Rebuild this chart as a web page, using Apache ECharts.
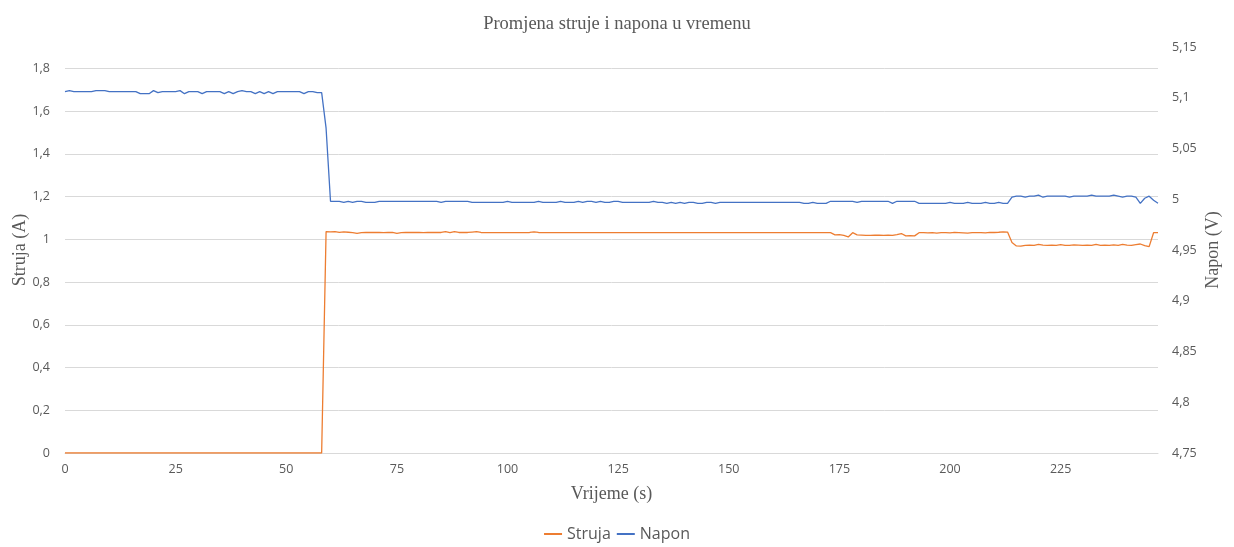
<!DOCTYPE html>
<html>
<head>
<meta charset="utf-8">
<script src="https://cdn.jsdelivr.net/npm/echarts@6/dist/echarts.min.js"></script>
<style>html,body{margin:0;padding:0;background:#fff}#c{width:1234px;height:547px}</style>
</head>
<body>
<div id="c"></div>
<script>
const titleText = 'Promjena struje i napona u vremenu';
const seriesNames = ['Struja', 'Napon'];
const axisNames = { x: 'Vrijeme (s)', left: 'Struja (A)', right: 'Napon (V)' };

// Struja (A), one sample per second, t = 0..247
const struja = [
  0,0,0,0,0,0,0,0,0,0,
  0,0,0,0,0,0,0,0,0,0,
  0,0,0,0,0,0,0,0,0,0,
  0,0,0,0,0,0,0,0,0,0,
  0,0,0,0,0,0,0,0,0,0,
  0,0,0,0,0,0,0,0,0,
  1.036,1.035,1.036,1.032,1.035,1.033,1.031,1.028,1.031,1.032,
  1.032,1.032,1.032,1.031,1.032,1.032,1.028,1.031,1.032,1.032,
  1.032,1.032,1.031,1.032,1.032,1.032,1.032,1.036,1.031,1.036,
  1.032,1.032,1.032,1.034,1.036,1.032,1.031,1.031,1.031,1.031,
  1.031,1.031,1.031,1.031,1.031,1.031,1.032,1.035,1.032,1.031,
  1.031,1.031,1.031,1.031,1.031,1.031,1.031,1.031,1.031,1.031,
  1.031,1.031,1.031,1.031,1.031,1.031,1.031,1.031,1.031,1.031,
  1.031,1.031,1.031,1.031,1.031,1.031,1.031,1.031,1.031,1.031,
  1.031,1.031,1.031,1.031,1.031,1.031,1.031,1.031,1.031,1.031,
  1.031,1.031,1.031,1.031,1.031,1.031,1.031,1.031,1.031,1.031,
  1.031,1.031,1.031,1.031,1.031,1.031,1.031,1.031,1.031,1.031,
  1.031,1.031,1.031,1.031,1.031,
  1.021,1.022,1.018,1.011,1.031,1.021,1.020,1.018,1.018,1.019,
  1.019,1.018,1.019,1.018,1.022,1.027,1.016,1.017,1.016,1.031,
  1.031,1.030,1.031,1.029,1.031,1.031,1.030,1.032,1.031,1.030,
  1.029,1.031,1.031,1.031,1.030,1.032,1.032,1.033,1.035,1.034,
  0.985,0.969,0.968,0.972,0.973,0.972,0.976,0.973,0.972,0.973,
  0.972,0.975,0.972,0.972,0.974,0.973,0.972,0.973,0.972,0.976,
  0.972,0.973,0.972,0.974,0.972,0.976,0.973,0.972,0.975,0.978,
  0.970,0.966,1.031,1.031
];

// Napon (V), t = 0..247
const napon = [
  5.106,5.107,5.106,5.106,5.106,5.106,5.106,5.107,5.107,5.107,
  5.106,5.106,5.106,5.106,5.106,5.106,5.106,5.104,5.104,5.104,
  5.107,5.105,5.106,5.106,5.106,5.106,5.107,5.104,5.106,5.106,
  5.106,5.104,5.106,5.106,5.106,5.106,5.104,5.106,5.104,5.106,
  5.107,5.106,5.106,5.104,5.106,5.104,5.106,5.104,5.106,5.106,
  5.106,5.106,5.106,5.106,5.104,5.106,5.106,5.105,5.105,5.070,
  4.998,4.998,4.998,4.997,4.998,4.997,4.998,4.998,4.997,4.997,
  4.997,4.998,4.998,4.998,4.998,4.998,4.998,4.998,4.998,4.998,
  4.998,4.998,4.998,4.998,4.998,4.997,4.998,4.998,4.998,4.998,
  4.998,4.998,4.997,4.997,4.997,4.997,4.997,4.997,4.997,4.997,
  4.998,4.997,4.997,4.997,4.997,4.997,4.997,4.998,4.997,4.997,
  4.997,4.997,4.998,4.997,4.997,4.997,4.998,4.997,4.998,4.998,
  4.997,4.998,4.997,4.997,4.998,4.998,4.997,4.997,4.997,4.997,
  4.997,4.997,4.997,4.998,4.997,4.997,4.996,4.997,4.996,4.997,
  4.996,4.997,4.997,4.996,4.996,4.997,4.997,4.996,4.997,4.997,
  4.997,4.997,4.997,4.997,4.997,4.997,4.997,4.997,4.997,4.997,
  4.997,4.997,4.997,4.997,4.997,4.997,4.997,4.996,4.996,4.997,
  4.996,4.996,4.996,4.998,4.998,4.998,4.998,4.998,4.998,4.997,
  4.998,4.998,4.998,4.998,4.998,4.998,4.998,4.996,4.998,4.998,
  4.998,4.998,4.998,4.996,4.996,4.996,4.996,4.996,4.996,4.996,
  4.997,4.996,4.996,4.996,4.997,4.996,4.996,4.996,4.997,4.996,
  4.996,4.997,4.996,4.996,5.002,5.003,5.003,5.002,5.003,5.003,
  5.004,5.002,5.003,5.003,5.003,5.003,5.003,5.002,5.003,5.003,
  5.003,5.003,5.004,5.003,5.003,5.003,5.003,5.004,5.003,5.002,
  5.003,5.003,5.002,4.996,5.001,5.003,4.999,4.996
];

// time in seconds (category labels)
const time = struja.map((_, i) => String(i));

const leftAxis = { min: 0, max: 1.9, interval: 0.2 };
const rightAxis = { min: 4.75, max: 5.15, interval: 0.05 };

const gray = '#595959';
const gridColor = '#d9d9d9';
const labelFont = 'Open Sans';
const comma = v => String(+v.toFixed(3)).replace('.', ',');

const chart = echarts.init(document.getElementById('c'), null, { renderer: 'canvas' });
chart.setOption({
  animation: false,
  backgroundColor: '#fff',
  title: {
    text: titleText, left: 'center', top: 10,
    textStyle: { fontFamily: 'Liberation Serif', fontSize: 18.5, fontWeight: 'normal', color: gray }
  },
  legend: {
    bottom: 0, left: 'center', itemGap: 6, itemWidth: 18, itemHeight: 2, icon: 'rect',
    textStyle: { fontFamily: labelFont, fontSize: 16, color: gray },
    data: seriesNames
  },
  grid: { left: 65, right: 76, top: 47, bottom: 94, containLabel: false, outerBoundsMode: 'none' },
  xAxis: {
    type: 'category', data: time, boundaryGap: false,
    name: axisNames.x, nameLocation: 'middle', nameGap: 32, nameMoveOverlap: false,
    nameTextStyle: { fontFamily: 'Liberation Serif', fontSize: 18, color: gray },
    axisLine: { lineStyle: { color: gridColor } },
    axisTick: { show: false },
    axisLabel: { interval: 24, color: gray, fontFamily: labelFont, fontSize: 12.5, margin: 10 },
    splitLine: { show: false }
  },
  yAxis: [
    {
      type: 'value', min: leftAxis.min, max: leftAxis.max, interval: leftAxis.interval, position: 'left',
      name: axisNames.left, nameLocation: 'middle', nameGap: 36, nameRotate: 90, nameMoveOverlap: false,
      nameTextStyle: { fontFamily: 'Liberation Serif', fontSize: 18, color: gray },
      axisLine: { show: false }, axisTick: { show: false },
      axisLabel: { color: gray, fontFamily: labelFont, fontSize: 12.5, margin: 15, showMaxLabel: false, formatter: comma },
      splitLine: { show: true, showMaxLine: false, lineStyle: { color: gridColor, width: 1 } }
    },
    {
      type: 'value', min: rightAxis.min, max: rightAxis.max, interval: rightAxis.interval, position: 'right',
      name: axisNames.right, nameLocation: 'middle', nameGap: 46, nameRotate: 90, nameMoveOverlap: false,
      nameTextStyle: { fontFamily: 'Liberation Serif', fontSize: 18, color: gray },
      axisLine: { show: false }, axisTick: { show: false },
      axisLabel: { color: gray, fontFamily: labelFont, fontSize: 12.5, margin: 14, formatter: comma },
      splitLine: { show: false }
    }
  ],
  series: [
    {
      name: seriesNames[0], type: 'line', yAxisIndex: 0, data: struja,
      symbol: 'none', smooth: false, color: '#ED7D31',
      lineStyle: { color: '#ED7D31', width: 1.3 }, z: 3
    },
    {
      name: seriesNames[1], type: 'line', yAxisIndex: 1, data: napon,
      symbol: 'none', smooth: false, color: '#4472C4',
      lineStyle: { color: '#4472C4', width: 1.3 }, z: 4
    }
  ]
});
</script>
</body>
</html>
